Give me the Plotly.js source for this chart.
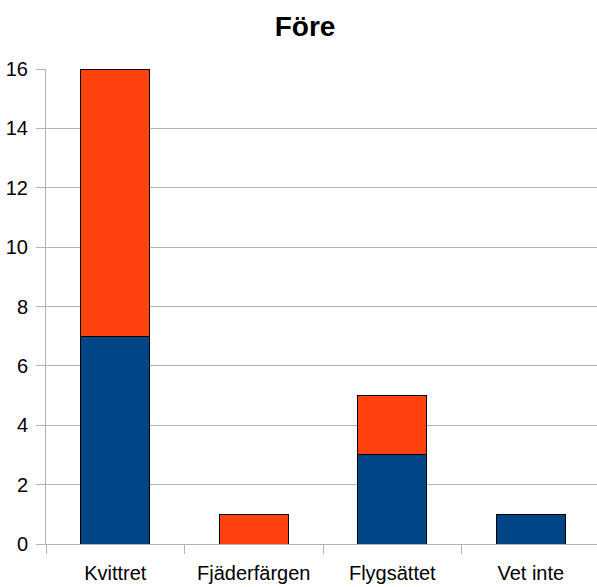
<!DOCTYPE html>
<html>
<head>
<meta charset="utf-8">
<script src="https://cdn.plot.ly/plotly-3.0.1.min.js"></script>
<style>
  html, body { margin: 0; padding: 0; background: #fff; overflow: hidden; }
  #chart { width: 597px; height: 587px; }
</style>
</head>
<body>
<div id="chart"></div>
<script>
// Answers grouped by category, stacked in two series
const categories = ["Kvittret", "Fjäderfärgen", "Flygsättet", "Vet inte"];
const seriesA = [7, 0, 3, 1];
const seriesB = [9, 1, 2, 0];
const yTicks = [0, 2, 4, 6, 8, 10, 12, 14, 16];

const barLine = { color: "#000000", width: 1 };

const traces = [
  {
    type: "bar",
    x: categories,
    y: seriesA,
    width: 0.5,
    marker: { color: "#004586", line: barLine },
    hoverinfo: "x+y"
  },
  {
    type: "bar",
    x: categories,
    y: seriesB,
    width: 0.5,
    marker: { color: "#ff420e", line: barLine },
    hoverinfo: "x+y"
  }
];

const layout = {
  width: 597,
  height: 587,
  barmode: "stack",
  showlegend: false,
  paper_bgcolor: "#ffffff",
  plot_bgcolor: "#ffffff",
  font: { family: "Liberation Sans, Arial, sans-serif", size: 20, color: "#000000" },
  margin: { l: 46, r: 0, t: 69, b: 43 },
  title: {
    text: "<b>Före</b>",
    font: { size: 28, family: "Liberation Sans, Arial, sans-serif", color: "#000000" },
    x: 0.511,
    xref: "container",
    xanchor: "center",
    y: 0.956,
    yref: "container",
    yanchor: "middle"
  },
  xaxis: {
    type: "category",
    range: [-0.5, 3.478],
    tickson: "boundaries",
    ticks: "outside",
    ticklen: 9,
    tickcolor: "#b3b3b3",
    tickwidth: 1,
    showline: true,
    linecolor: "#b3b3b3",
    linewidth: 1,
    showgrid: false,
    zeroline: false,
    tickfont: { size: 20 },
    ticklabelstandoff: 11,
    fixedrange: true
  },
  yaxis: {
    range: [0, 16],
    tickvals: yTicks,
    ticktext: yTicks.map(String),
    ticks: "outside",
    ticklen: 9,
    tickcolor: "#b3b3b3",
    tickwidth: 1,
    showline: true,
    linecolor: "#b3b3b3",
    linewidth: 1,
    showgrid: true,
    gridcolor: "#b3b3b3",
    gridwidth: 1,
    zeroline: false,
    tickfont: { size: 20 },
    ticklabelstandoff: 4,
    fixedrange: true
  }
};

Plotly.newPlot("chart", traces, layout, { displayModeBar: false, staticPlot: true });
</script>
</body>
</html>
